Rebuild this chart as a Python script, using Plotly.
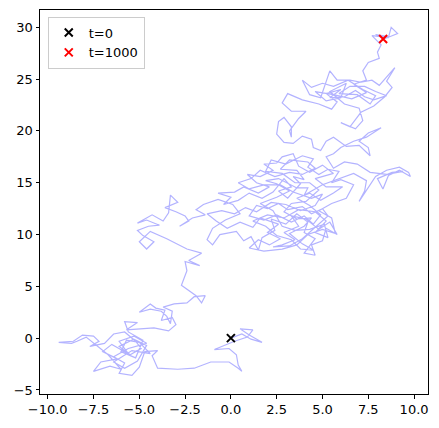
import plotly.graph_objects as go

# hand-traced 2D random walk (data units)
walk_pts = [
    # start region
    (0.0, 0.0), (0.6, 0.4), (1.1, -0.1), (1.7, -0.4), (1.0, 0.3), (0.5, 0.9), (1.2, 0.8), (0.9, 0.1),
    (0.2, -0.3), (-0.9, -1.1), (-0.1, -1.0), (0.3, -1.6), (0.4, -2.6), (0.6, -3.2), (0.4, -2.9),
    (-0.1, -2.3), (-1.1, -2.3), (-2.0, -2.9), (-2.9, -3.0), (-4.0, -2.9), (-4.3, -1.7), (-4.0, -1.2),
    (-4.7, -1.3),
    # bottom-left cluster
    (-5.0, -2.8), (-5.4, -3.6), (-6.1, -3.4), (-5.8, -2.4), (-6.4, -1.8), (-5.6, -1.0), (-4.6, -0.5),
    (-5.3, 0.2), (-6.1, -0.3), (-5.6, -1.5), (-6.5, -0.6), (-7.0, -1.3), (-6.2, -2.0), (-7.1, -2.3),
    (-7.5, -3.2), (-6.6, -2.7), (-6.0, -3.0), (-6.7, -1.6), (-7.4, -0.6), (-7.9, 0.1), (-8.4, -0.3),
    (-8.7, -0.5), (-9.4, -0.4), (-8.6, -0.3), (-8.1, 0.3), (-7.5, 0.2), (-7.2, -0.3), (-7.7, -0.8),
    (-6.9, -0.5), (-6.4, 0.4), (-5.8, 0.6), (-5.2, -0.3), (-4.9, -1.0), (-5.5, -1.6), (-6.1, -0.8),
    (-5.3, -0.1), (-4.6, -0.7), (-5.1, -2.2), (-5.8, -2.9), (-6.4, -2.3), (-5.4, -1.2), (-4.4, -1.5),
    (-5.0, -0.4), (-5.7, -0.2), (-6.0, -1.3), (-5.2, -1.9), (-4.8, -0.2),
    # climb
    (-5.6, 0.6), (-5.8, 1.6), (-5.1, 1.5), (-5.7, 0.8), (-4.9, 0.9), (-4.2, 1.0), (-3.4, 0.7),
    (-3.0, 1.3), (-3.2, 2.0), (-3.8, 1.7), (-3.6, 2.7), (-4.1, 2.9), (-4.4, 3.3), (-5.0, 2.5),
    (-4.4, 2.8), (-3.8, 2.6), (-3.5, 2.1), (-3.3, 1.4), (-3.2, 2.6), (-3.7, 3.0), (-3.1, 3.3),
    (-2.4, 3.4), (-2.0, 4.0), (-1.4, 4.1), (-1.6, 3.4), (-1.9, 4.1), (-2.7, 5.1), (-2.4, 6.5),
    (-2.5, 7.4), (-1.7, 7.0), (-2.3, 7.5), (-1.6, 8.2),
    # mid-left cluster
    (-2.4, 8.6), (-3.5, 9.6), (-4.4, 10.3), (-5.0, 9.3), (-4.6, 8.6), (-4.2, 9.3), (-4.8, 9.9),
    (-5.1, 10.4), (-4.5, 10.8), (-3.9, 10.9), (-4.6, 11.4), (-5.1, 11.1), (-4.3, 11.9), (-3.7, 11.3),
    (-3.4, 12.1), (-3.3, 13.8), (-2.9, 13.1), (-3.6, 12.6), (-3.0, 12.2), (-2.5, 11.8), (-2.3, 11.3),
    (-2.8, 10.8), (-2.1, 11.6), (-1.4, 11.9), (-1.9, 12.4), (-1.5, 12.9), (-0.7, 13.4), (0.1, 12.9),
    (0.5, 12.0), (-0.3, 11.4), (-1.0, 10.6), (-1.3, 9.5), (-1.0, 9.0), (-0.6, 10.0), (0.3, 10.3),
    (0.7, 9.4), (1.1, 9.8),
    # central mass
    (1.5, 8.5), (1.7, 9.7), (2.4, 10.4), (2.2, 11.5), (3.0, 11.0), (3.6, 12.0), (4.2, 11.2),
    (4.0, 10.2), (4.6, 9.6), (4.0, 8.2), (4.6, 8.0), (4.4, 9.0), (5.0, 9.4), (5.2, 10.6), (5.8, 10.0),
    (5.4, 11.2), (4.8, 10.5), (4.1, 11.5), (3.3, 11.8), (3.7, 10.8), (2.9, 10.2), (3.5, 9.5),
    (2.8, 9.0), (2.3, 8.8), (3.2, 8.9), (3.9, 9.6), (4.7, 10.9), (5.3, 11.8), (5.0, 12.5), (4.4, 12.0),
    (3.9, 12.7), (3.1, 12.4), (2.6, 13.0), (2.0, 12.5), (1.4, 12.8), (1.0, 11.8), (1.8, 11.4),
    (2.5, 11.9), (3.3, 11.2), (4.0, 11.8), (4.5, 11.0), (4.9, 11.9), (4.3, 12.8), (3.6, 13.5),
    (4.3, 14.0), (4.9, 13.3), (5.6, 14.0), (6.1, 14.6), (5.2, 14.6), (4.6, 15.4), (5.6, 15.9),
    (5.0, 16.7), (4.3, 16.0), (3.7, 16.6), (3.4, 17.8), (2.8, 17.5), (2.5, 16.9), (1.8, 16.8),
    (2.3, 16.2), (1.6, 15.6), (0.9, 15.8), (1.4, 15.0), (2.1, 14.6), (1.5, 14.0), (0.7, 14.6),
    (0.2, 14.1), (-0.7, 14.0), (0.0, 13.6), (-0.4, 12.9), (0.4, 13.3), (1.0, 14.0), (1.7, 13.5),
    (2.3, 14.1), (2.9, 15.4), (3.3, 14.6), (2.6, 14.2), (3.1, 13.5), (3.8, 14.9), (3.4, 15.6),
    (4.0, 15.3), (3.6, 16.2), (2.7, 16.3), (3.2, 17.2), (4.2, 17.0), (4.6, 16.4), (3.9, 15.8),
    (3.2, 16.0), (2.4, 15.6), (1.6, 16.2), (1.1, 15.4), (0.4, 15.0), (1.0, 14.4), (1.8, 14.8),
    (2.7, 14.8), (3.4, 14.1), (4.4, 13.5), (5.0, 13.9), (4.6, 12.8), (3.8, 12.3), (3.0, 12.9),
    (2.2, 13.1), (1.4, 12.2), (0.8, 12.6), (0.2, 12.0), (-0.5, 12.3), (-1.3, 12.0), (-0.8, 11.3),
    (-0.2, 10.6), (0.5, 11.2), (1.2, 10.7), (1.6, 11.6), (2.6, 11.0), (2.0, 10.2), (2.7, 9.6),
    (2.1, 9.0), (1.5, 9.5), (1.0, 8.7), (1.8, 8.4), (2.8, 8.6), (3.6, 9.0), (4.2, 10.0), (5.0, 10.5),
    (5.7, 10.1), (5.5, 11.6), (4.8, 12.3), (5.5, 13.0), (6.3, 13.5), (6.7, 14.8), (6.0, 15.3),
    (5.5, 15.0), (5.9, 16.1), (5.3, 16.3), (4.8, 15.8), (4.2, 16.5), (4.5, 17.3), (3.9, 17.6),
    (3.0, 16.8), (2.2, 17.2), (1.9, 16.1), (2.8, 15.9), (3.5, 15.0), (4.3, 15.0), (4.8, 14.3),
    (4.1, 13.2), (3.3, 13.0), (2.9, 12.2), (3.6, 11.5), (4.4, 11.6), (4.0, 10.8), (3.2, 10.1),
    (3.9, 9.1), (4.5, 8.5), (3.8, 8.6), (3.3, 9.5), (2.5, 9.9), (1.9, 10.8), (1.2, 11.3), (2.0, 11.9),
    (2.9, 11.6), (3.7, 12.4), (4.6, 12.2), (5.2, 11.3), (4.6, 10.2), (5.3, 9.7), (5.1, 11.0),
    (4.3, 10.5), (3.5, 10.4), (2.8, 10.8), (2.3, 12.3), (1.6, 13.0), (2.5, 13.6), (3.2, 14.2),
    (2.5, 14.9), (1.9, 15.2), (2.6, 15.4), (3.6, 14.5), (4.2, 14.5), (4.0, 13.8), (5.0, 14.8),
    (5.6, 15.2),
    # right lobe
    (6.7, 15.9), (7.4, 15.2), (7.3, 14.2), (7.0, 13.2), (7.5, 14.6), (7.9, 15.6), (8.5, 16.2),
    (9.2, 16.5), (9.7, 16.0), (9.8, 15.6), (9.2, 16.2), (8.6, 15.7), (8.3, 14.4), (8.0, 15.4),
    (8.8, 16.0), (9.4, 16.1), (8.5, 15.8), (7.6, 16.0), (6.9, 16.8), (6.2, 17.0), (5.6, 16.4),
    (5.2, 17.5), (5.6, 17.8), (6.0, 18.4), (6.7, 19.0), (7.4, 19.4), (8.2, 20.3), (7.5, 19.8),
    (7.0, 19.0), (7.5, 18.4), (7.6, 17.6), (7.0, 18.6), (6.3, 18.5), (5.6, 19.4), (5.2, 19.0),
    (4.9, 18.1), (4.5, 18.4), (4.4, 19.2), (3.9, 19.5),
    # upper region
    (3.4, 18.8), (2.9, 18.9), (2.5, 19.7), (2.6, 20.9), (2.9, 21.3), (3.3, 20.4), (3.3, 19.4),
    (3.2, 20.0), (3.7, 21.2), (4.1, 21.9), (3.3, 21.9), (2.8, 22.7), (3.1, 23.6), (3.9, 23.0),
    (4.8, 22.6), (5.5, 22.1), (5.8, 22.8), (5.2, 23.6), (6.0, 24.0), (5.4, 23.2), (6.2, 23.3),
    (6.8, 23.9), (7.3, 23.3), (7.8, 23.0), (8.5, 23.4), (7.9, 23.8), (7.3, 24.3), (6.5, 24.3),
    (5.9, 23.6), (6.9, 23.5), (7.6, 22.6), (7.9, 23.4), (7.2, 24.0), (6.4, 24.9), (5.6, 24.3),
    (5.0, 24.6), (4.4, 24.2), (3.9, 24.9), (4.3, 23.5), (4.9, 23.2), (5.4, 25.8), (5.8, 24.9),
    (6.5, 24.9), (7.1, 24.7), (7.7, 24.9), (8.1, 24.4), (8.95, 26.1), (8.5, 24.8), (8.8, 24.2),
    (8.4, 23.3), (7.8, 22.4), (7.1, 21.8), (6.8, 21.1), (6.5, 20.4), (6.0, 20.8), (6.8, 20.2),
    (7.2, 21.0), (7.0, 22.2), (6.2, 22.6), (5.4, 23.8), (6.3, 24.6), (6.0, 23.2), (5.2, 22.9),
    (4.6, 23.8), (5.6, 23.5), (6.6, 23.1), (7.4, 23.7), (6.7, 24.5), (7.4, 24.9),
    # final ascent
    (7.2, 25.8), (7.5, 26.6), (8.1, 27.0), (8.0, 27.6), (8.2, 28.3), (7.7, 29.2), (8.6, 29.0),
    (8.75, 30.0), (9.1, 29.4), (8.4, 28.9), (7.9, 29.3), (8.6, 29.1), (8.31, 28.87),
]
walk_x = [p[0] for p in walk_pts]
walk_y = [p[1] for p in walk_pts]

x_ticks = [-10.0, -7.5, -5.0, -2.5, 0.0, 2.5, 5.0, 7.5, 10.0]
y_ticks = [-5, 0, 5, 10, 15, 20, 25, 30]

fig = go.Figure()
fig.add_trace(go.Scatter(
    x=walk_x, y=walk_y, mode="lines",
    line=dict(color="#b3b3ff", width=1.2),
    showlegend=False, hoverinfo="skip",
))
fig.add_trace(go.Scatter(
    x=[walk_x[0]], y=[walk_y[0]], mode="markers", name="t=0",
    marker=dict(symbol="x-thin", size=8, line=dict(color="black", width=2)),
))
fig.add_trace(go.Scatter(
    x=[walk_x[-1]], y=[walk_y[-1]], mode="markers", name="t=1000",
    marker=dict(symbol="x-thin", size=8, line=dict(color="red", width=2)),
))

axis_style = dict(
    showgrid=False, zeroline=False, showline=True, mirror=True, automargin=False,
    linecolor="black", linewidth=1, ticks="outside", ticklen=3.5,
    tickcolor="black", tickfont=dict(size=13, color="black"),
)
fig.update_xaxes(range=[-10.42, 10.76], tickvals=x_ticks,
                 ticktext=[f"{v:.1f}".replace("-", "\u2212") for v in x_ticks], **axis_style)
fig.update_yaxes(range=[-5.39, 31.67], tickvals=y_ticks,
                 ticktext=[str(v).replace("-", "\u2212") for v in y_ticks], **axis_style)

# page body has an 8px margin, so the figure is shrunk by that amount
fig.update_layout(
    width=431, height=420,
    margin=dict(l=32, r=11, t=2, b=34),
    plot_bgcolor="white", paper_bgcolor="white",
    font=dict(family="DejaVu Sans", size=13, color="black"),
    legend=dict(x=0.02, y=0.983, xanchor="left", yanchor="top",
                bgcolor="white", bordercolor="#cccccc", borderwidth=1,
                font=dict(size=13)),
)
fig.write_html("out.html")
